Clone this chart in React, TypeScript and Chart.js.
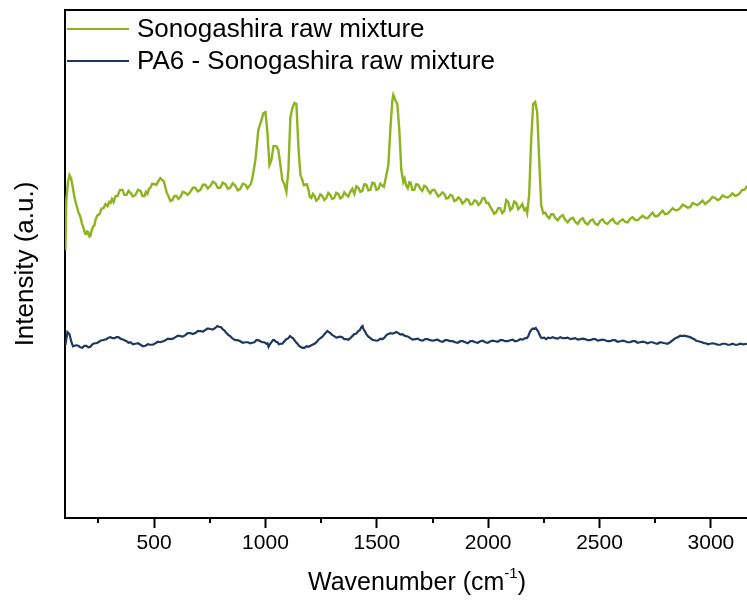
import React, { useEffect, useRef } from "react";
import { Chart, registerables } from "chart.js";

Chart.register(...registerables);

const FONT = "'Liberation Sans', Arial, sans-serif";

// [wavenumber (cm-1), intensity (a.u.)] — "Sonogashira raw mixture"
const greenSeries: [number, number][] = [
  [102, 52.8], [106, 62.6], [113, 66.0], [120, 67.5], [127, 66.9], [133, 65.6], [142, 63.3], [151, 61.6], [160, 60.2], [169, 59.3],
  [176, 58.0], [183, 57.1], [190, 56.0], [196, 55.9], [200, 56.4], [205, 56.3], [210, 55.4], [214, 55.5], [221, 56.8], [228, 57.5],
  [232, 57.6], [237, 58.7], [246, 59.6], [255, 59.8], [264, 60.9], [273, 61.0], [282, 61.8], [291, 61.4], [298, 62.2], [304, 62.0],
  [311, 62.8], [318, 62.2], [327, 63.4], [336, 63.4], [347, 64.6], [358, 64.6], [367, 63.6], [376, 63.6], [385, 64.4], [394, 64.0],
  [405, 63.3], [416, 63.6], [428, 64.6], [439, 64.4], [448, 63.4], [457, 63.4], [463, 64.2], [470, 63.8], [477, 64.8], [483, 65.0],
  [492, 65.8], [501, 65.7], [510, 65.6], [519, 66.3], [528, 66.9], [537, 66.5], [544, 66.3], [551, 65.0], [557, 64.0], [564, 63.4],
  [573, 62.4], [582, 62.6], [591, 63.4], [600, 63.4], [609, 62.8], [618, 63.2], [629, 64.2], [640, 64.0], [651, 63.6], [663, 64.2],
  [674, 65.0], [685, 65.0], [696, 64.3], [708, 64.6], [719, 65.6], [730, 65.6], [741, 64.9], [753, 65.4], [764, 66.2], [775, 65.9],
  [786, 65.0], [797, 65.0], [808, 66.0], [820, 65.7], [831, 64.8], [842, 65.0], [853, 65.9], [865, 65.4], [876, 64.5], [887, 64.8],
  [898, 65.8], [910, 65.6], [919, 64.9], [928, 65.4], [934, 65.7], [941, 66.9], [955, 70.5], [968, 76.4], [982, 78.3], [991, 79.7],
  [1000, 79.9], [1009, 75.8], [1018, 69.5], [1027, 70.5], [1036, 73.2], [1049, 73.2], [1058, 72.4], [1067, 69.5], [1076, 66.5], [1085, 65.7],
  [1094, 64.2], [1103, 68.5], [1112, 78.9], [1121, 80.7], [1130, 81.7], [1139, 81.5], [1148, 73.0], [1157, 67.5], [1166, 66.5], [1172, 65.5],
  [1179, 65.6], [1186, 65.7], [1193, 64.6], [1199, 63.2], [1206, 63.0], [1213, 63.8], [1220, 63.4], [1228, 62.5], [1237, 62.8], [1246, 63.7],
  [1255, 63.4], [1264, 62.6], [1273, 63.0], [1282, 64.0], [1291, 63.6], [1300, 62.8], [1309, 63.0], [1318, 64.0], [1327, 63.8], [1336, 62.9],
  [1345, 63.2], [1354, 64.1], [1363, 63.6], [1372, 63.3], [1381, 64.2], [1390, 64.8], [1399, 63.8], [1408, 65.3], [1417, 65.0], [1426, 64.2],
  [1435, 64.4], [1444, 65.7], [1453, 65.6], [1462, 64.5], [1471, 64.6], [1480, 66.0], [1489, 65.9], [1498, 64.6], [1507, 64.8], [1516, 65.8],
  [1525, 65.4], [1532, 65.2], [1538, 66.5], [1552, 69.5], [1561, 76.8], [1570, 82.3], [1574, 83.3], [1583, 82.3], [1592, 81.5], [1601, 76.4],
  [1610, 68.5], [1619, 66.1], [1625, 66.8], [1632, 65.4], [1639, 64.9], [1646, 66.1], [1652, 66.0], [1659, 64.6], [1668, 64.6], [1677, 65.7],
  [1686, 65.6], [1695, 64.8], [1704, 64.4], [1713, 65.4], [1722, 65.2], [1731, 64.4], [1740, 63.9], [1749, 64.6], [1758, 64.6], [1767, 64.0],
  [1776, 63.3], [1785, 63.6], [1794, 64.1], [1803, 63.8], [1812, 62.9], [1821, 63.0], [1830, 63.6], [1839, 63.4], [1848, 62.4], [1857, 62.6],
  [1866, 63.1], [1875, 62.8], [1884, 61.9], [1893, 62.2], [1902, 62.8], [1911, 62.6], [1920, 61.7], [1929, 61.8], [1938, 62.5], [1947, 62.4],
  [1956, 61.6], [1965, 62.0], [1974, 62.9], [1983, 63.0], [1992, 62.0], [2001, 62.0], [2010, 61.2], [2018, 60.6], [2027, 59.9], [2036, 60.2],
  [2045, 61.0], [2054, 61.0], [2063, 60.0], [2072, 60.4], [2081, 62.6], [2090, 62.2], [2099, 60.6], [2108, 61.0], [2117, 62.3], [2126, 62.0],
  [2135, 60.8], [2144, 61.2], [2153, 61.8], [2162, 60.6], [2169, 60.9], [2175, 60.0], [2184, 63.6], [2193, 74.4], [2202, 81.5], [2211, 81.9],
  [2220, 79.9], [2229, 70.5], [2238, 61.6], [2247, 60.0], [2256, 60.1], [2265, 59.4], [2274, 59.0], [2283, 59.8], [2292, 59.8], [2301, 59.1],
  [2312, 58.6], [2324, 59.3], [2335, 59.6], [2346, 58.7], [2357, 58.2], [2369, 58.9], [2380, 59.1], [2391, 58.3], [2402, 57.9], [2413, 58.7],
  [2424, 59.0], [2436, 58.1], [2447, 57.8], [2458, 58.5], [2469, 58.8], [2481, 57.9], [2492, 57.7], [2503, 58.5], [2514, 58.8], [2525, 58.1],
  [2536, 57.9], [2548, 58.5], [2559, 58.9], [2570, 58.1], [2581, 57.9], [2593, 58.5], [2604, 58.8], [2615, 58.3], [2626, 58.2], [2637, 58.9],
  [2648, 59.2], [2660, 58.7], [2671, 58.6], [2682, 59.1], [2693, 59.5], [2705, 59.1], [2716, 59.0], [2727, 59.6], [2738, 60.1], [2749, 59.4],
  [2760, 59.4], [2772, 60.0], [2783, 60.5], [2794, 59.8], [2805, 59.9], [2817, 60.4], [2828, 61.0], [2839, 60.6], [2850, 60.6], [2862, 61.0],
  [2873, 61.7], [2884, 61.4], [2895, 61.1], [2907, 61.2], [2918, 62.0], [2929, 61.8], [2940, 61.6], [2951, 62.0], [2962, 62.5], [2974, 61.8],
  [2985, 62.2], [2996, 62.6], [3007, 63.2], [3019, 63.0], [3030, 62.6], [3041, 62.8], [3052, 63.5], [3064, 63.2], [3075, 63.1], [3086, 63.4],
  [3097, 63.9], [3109, 63.4], [3120, 63.6], [3131, 64.0], [3140, 64.6], [3149, 64.6], [3156, 64.9], [3162, 65.4],
];

// [wavenumber (cm-1), intensity (a.u.)] — "PA6 - Sonogashira raw mixture"
const blueSeries: [number, number][] = [
  [102, 34.1], [111, 36.6], [120, 36.2], [129, 34.6], [136, 33.8], [142, 33.9], [151, 34.0], [160, 33.9], [169, 33.6], [178, 33.5],
  [187, 33.9], [196, 33.9], [205, 33.6], [214, 33.7], [223, 34.2], [232, 34.4], [241, 34.4], [250, 34.6], [259, 34.9], [268, 35.0],
  [277, 35.1], [286, 35.2], [295, 35.5], [304, 35.6], [313, 35.4], [322, 35.4], [331, 35.6], [340, 35.6], [349, 35.3], [358, 35.2],
  [367, 35.0], [376, 34.8], [385, 34.5], [394, 34.6], [405, 34.2], [416, 34.3], [428, 34.4], [439, 34.1], [450, 33.8], [461, 33.9],
  [472, 34.2], [483, 34.1], [494, 34.1], [506, 34.4], [517, 34.7], [528, 34.6], [540, 34.8], [551, 35.0], [562, 35.3], [573, 35.2],
  [585, 35.3], [596, 35.6], [607, 35.9], [618, 35.8], [629, 35.7], [640, 36.0], [651, 36.4], [663, 36.4], [674, 36.2], [685, 36.4],
  [696, 36.8], [708, 36.8], [719, 36.7], [730, 37.0], [741, 37.3], [753, 37.2], [764, 37.1], [775, 37.4], [784, 37.8], [793, 37.6],
  [800, 37.6], [807, 37.2], [816, 36.9], [825, 36.4], [834, 36.0], [842, 35.8], [853, 35.3], [865, 35.0], [876, 35.0], [887, 34.8],
  [898, 34.5], [910, 34.6], [921, 34.6], [932, 34.4], [941, 34.5], [950, 34.6], [959, 35.0], [968, 35.0], [977, 34.8], [986, 34.6],
  [995, 34.6], [1004, 34.3], [1009, 34.4], [1014, 33.7], [1020, 34.2], [1027, 34.6], [1033, 35.0], [1040, 35.0], [1047, 34.7], [1054, 34.6],
  [1060, 34.2], [1067, 34.3], [1076, 34.3], [1085, 34.8], [1094, 35.2], [1103, 35.4], [1110, 35.8], [1116, 35.6], [1123, 35.4], [1130, 35.0],
  [1137, 34.6], [1144, 34.3], [1150, 33.9], [1157, 33.7], [1166, 33.5], [1175, 33.5], [1184, 33.8], [1193, 33.7], [1202, 33.9], [1211, 34.1],
  [1220, 34.3], [1229, 34.6], [1238, 35.1], [1247, 35.4], [1256, 35.7], [1265, 36.2], [1272, 36.5], [1278, 36.8], [1285, 36.6], [1291, 36.4],
  [1300, 36.0], [1309, 35.8], [1318, 35.5], [1327, 35.6], [1336, 35.7], [1345, 35.6], [1354, 35.2], [1363, 35.2], [1372, 35.1], [1381, 35.4],
  [1390, 35.8], [1399, 36.2], [1408, 36.3], [1417, 36.8], [1424, 37.0], [1431, 37.6], [1436, 37.8], [1440, 37.2], [1446, 36.8], [1453, 36.2],
  [1462, 35.7], [1471, 35.4], [1480, 35.1], [1489, 35.0], [1498, 34.9], [1507, 35.0], [1516, 35.3], [1525, 35.2], [1534, 35.5], [1543, 36.0],
  [1552, 36.2], [1561, 36.4], [1570, 36.3], [1579, 36.4], [1588, 36.6], [1597, 36.4], [1606, 36.1], [1615, 36.2], [1624, 35.9], [1632, 35.8],
  [1641, 35.7], [1650, 35.4], [1661, 35.1], [1673, 35.2], [1684, 35.3], [1695, 35.0], [1706, 34.9], [1717, 35.2], [1728, 35.2], [1740, 35.0],
  [1751, 34.9], [1762, 35.0], [1773, 35.1], [1785, 34.8], [1796, 34.7], [1807, 35.0], [1818, 35.0], [1830, 34.8], [1841, 34.8], [1852, 34.6],
  [1863, 34.5], [1875, 34.8], [1886, 34.8], [1897, 34.6], [1908, 34.4], [1920, 34.8], [1931, 34.8], [1942, 34.6], [1953, 34.5], [1965, 34.8],
  [1976, 34.9], [1987, 34.6], [1998, 34.5], [2010, 34.8], [2021, 34.9], [2032, 34.8], [2043, 34.7], [2054, 35.0], [2065, 35.0], [2077, 34.8],
  [2088, 34.8], [2099, 35.0], [2110, 35.1], [2121, 34.8], [2132, 34.9], [2144, 35.2], [2155, 35.1], [2166, 35.4], [2173, 35.4], [2180, 35.8],
  [2187, 36.6], [2193, 37.0], [2200, 37.3], [2207, 37.2], [2214, 37.4], [2220, 37.0], [2225, 36.7], [2229, 36.2], [2236, 35.6], [2242, 35.4],
  [2251, 35.5], [2260, 35.2], [2269, 35.5], [2278, 35.4], [2290, 35.6], [2301, 35.4], [2312, 35.3], [2324, 35.6], [2335, 35.4], [2346, 35.4],
  [2357, 35.5], [2369, 35.2], [2380, 35.3], [2391, 35.4], [2402, 35.1], [2413, 35.2], [2424, 35.3], [2436, 35.2], [2447, 35.0], [2458, 35.0],
  [2469, 35.2], [2481, 35.2], [2492, 34.9], [2503, 35.0], [2514, 35.1], [2525, 35.0], [2536, 34.8], [2548, 34.8], [2559, 35.0], [2570, 35.0],
  [2581, 34.7], [2593, 34.8], [2604, 34.9], [2615, 34.8], [2626, 34.6], [2637, 34.6], [2648, 34.8], [2660, 34.8], [2671, 34.5], [2682, 34.6],
  [2693, 34.7], [2705, 34.6], [2716, 34.4], [2727, 34.6], [2738, 34.6], [2749, 34.4], [2760, 34.3], [2772, 34.6], [2783, 34.5], [2794, 34.4],
  [2805, 34.3], [2817, 34.6], [2826, 34.9], [2835, 35.2], [2844, 35.5], [2853, 35.6], [2862, 35.9], [2871, 35.8], [2880, 35.9], [2889, 35.8],
  [2898, 35.7], [2907, 35.6], [2916, 35.4], [2925, 35.2], [2934, 34.9], [2943, 34.8], [2952, 34.7], [2960, 34.6], [2969, 34.4], [2978, 34.4],
  [2987, 34.2], [2996, 34.3], [3007, 34.4], [3019, 34.3], [3030, 34.1], [3041, 34.1], [3052, 34.3], [3064, 34.3], [3075, 34.1], [3086, 34.1],
  [3097, 34.3], [3109, 34.1], [3120, 34.1], [3131, 34.3], [3145, 34.2], [3162, 34.3],
];

const seriesNames = ["Sonogashira raw mixture", "PA6 - Sonogashira raw mixture"];
const seriesColors = ["#8db31f", "#1d3a5e"];
const majorTicks = [500, 1000, 1500, 2000, 2500, 3000];
const minorTicks = [250, 750, 1250, 1750, 2250, 2750];
const xTitle = { main: "Wavenumber (cm", sup: "-1", close: ")" };
const yTitle = "Intensity (a.u.)";
const xMin = 100;
const xMax = 3162;

const toPoints = (s: [number, number][]) => s.map(([x, y]) => ({ x, y }));

const extrasPlugin = {
  id: "extras",
  afterDraw(chart: any) {
    const { ctx, chartArea } = chart;
    const xs = chart.scales.x;
    ctx.save();
    // minor ticks
    ctx.strokeStyle = "#000";
    ctx.lineWidth = 2;
    minorTicks.forEach((v) => {
      const px = Math.round(xs.getPixelForValue(v));
      ctx.beginPath();
      ctx.moveTo(px, chartArea.bottom);
      ctx.lineTo(px, chartArea.bottom + 5);
      ctx.stroke();
    });
    // legend
    const legendX = chartArea.left + 2;
    const rowY = [chartArea.top + 19, chartArea.top + 51];
    seriesNames.forEach((name, i) => {
      ctx.strokeStyle = seriesColors[i];
      ctx.lineWidth = 2;
      ctx.beginPath();
      ctx.moveTo(legendX, rowY[i]);
      ctx.lineTo(legendX + 62, rowY[i]);
      ctx.stroke();
      ctx.fillStyle = "#000";
      ctx.font = `26px ${FONT}`;
      ctx.textBaseline = "middle";
      ctx.textAlign = "left";
      ctx.fillText(name, legendX + 70, rowY[i] + 1);
    });
    // x title with superscript
    const big = `25px ${FONT}`;
    const small = `15px ${FONT}`;
    ctx.font = big;
    const w1 = ctx.measureText(xTitle.main).width;
    const w3 = ctx.measureText(xTitle.close).width;
    ctx.font = small;
    const w2 = ctx.measureText(xTitle.sup).width;
    const total = w1 + w2 + w3;
    const cx = (chartArea.left + chartArea.right + 22) / 2;
    const ty = 583;
    let x0 = cx - total / 2;
    ctx.fillStyle = "#000";
    ctx.textAlign = "left";
    ctx.textBaseline = "middle";
    ctx.font = big;
    ctx.fillText(xTitle.main, x0, ty);
    x0 += w1;
    ctx.font = small;
    ctx.fillText(xTitle.sup, x0, ty - 9);
    x0 += w2;
    ctx.font = big;
    ctx.fillText(xTitle.close, x0, ty);
    ctx.restore();
  },
};

export default function App() {
  const ref = useRef<HTMLCanvasElement | null>(null);
  useEffect(() => {
    if (!ref.current) return;
    const chart = new Chart(ref.current, {
      type: "line",
      data: {
        datasets: [
          {
            label: seriesNames[0],
            data: toPoints(greenSeries),
            borderColor: seriesColors[0],
            borderWidth: 2.4,
            pointRadius: 0,
            tension: 0,
          },
          {
            label: seriesNames[1],
            data: toPoints(blueSeries),
            borderColor: seriesColors[1],
            borderWidth: 2.2,
            pointRadius: 0,
            tension: 0,
          },
        ],
      },
      options: {
        animation: false,
        responsive: false,
        devicePixelRatio: 1,
        layout: { padding: 0 },
        plugins: { legend: { display: false }, tooltip: { enabled: false } },
        scales: {
          x: {
            type: "linear",
            position: "bottom",
            min: xMin,
            max: xMax,
            afterBuildTicks: (s: any) => {
              s.ticks = majorTicks.map((v) => ({ value: v }));
            },
            afterFit: (s: any) => {
              s.height = 85;
            },
            ticks: {
              autoSkip: false,
              maxRotation: 0,
              padding: 3,
              color: "#000",
              font: { family: FONT, size: 21 },
              callback: (v: any) => String(v),
            },
            grid: {
              display: true,
              drawOnChartArea: false,
              tickLength: 10,
              tickWidth: 2,
              tickColor: "#000",
              color: "#000",
            },
            border: { display: true, color: "#000", width: 2 },
          },
          x2: {
            type: "linear",
            position: "top",
            min: xMin,
            max: xMax,
            afterFit: (s: any) => {
              s.height = 10;
            },
            ticks: { display: false },
            grid: { display: false },
            border: { display: true, color: "#000", width: 2 },
          },
          y: {
            type: "linear",
            position: "left",
            min: 0,
            max: 100,
            afterFit: (s: any) => {
              s.width = 65;
            },
            ticks: { display: false },
            grid: { display: false },
            border: { display: true, color: "#000", width: 2 },
            title: {
              display: true,
              text: yTitle,
              color: "#000",
              font: { family: FONT, size: 26 },
              padding: { top: 10, bottom: 0 },
            },
          },
        },
      },
      plugins: [extrasPlugin],
    });
    return () => chart.destroy();
  }, []);
  return (
    <div style={{ position: "absolute", left: 0, top: 0, width: 747, height: 603, background: "#fff" }}>
      <canvas ref={ref} width={747} height={603} style={{ display: "block" }} />
    </div>
  );
}
